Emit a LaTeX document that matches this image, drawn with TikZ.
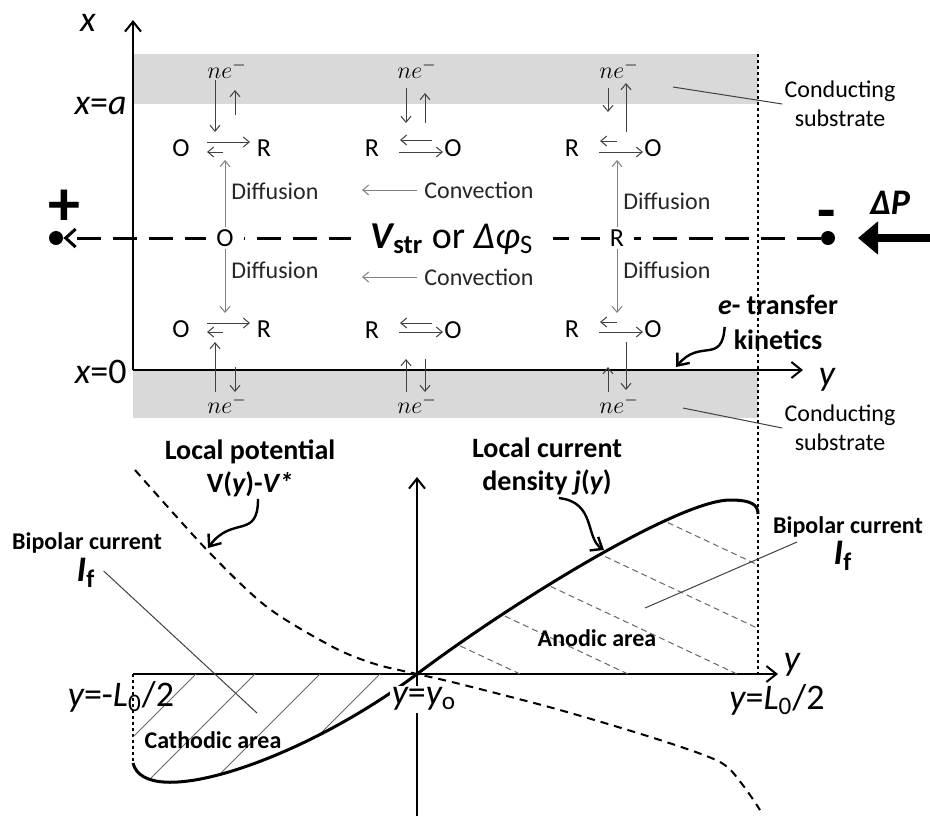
\documentclass[tikz,border=0pt]{standalone}
\usepackage{fontspec}
\setmainfont{Carlito}
\usetikzlibrary{calc,positioning,arrows.meta}
\tikzset{
  axis/.style={line width=1pt, -{Straight Barb[length=5pt,width=8pt]}},
  band/.style={fill=black!15},
  guide/.style={line width=0.6pt, dash pattern=on 1.5pt off 1.5pt},
  rxn/.style={line width=0.5pt, draw=black!75, -{Straight Barb[length=3pt,width=5pt]}},
  dif/.style={line width=0.5pt, draw=black!50, -{Straight Barb[length=3pt,width=5pt]}},
  spc/.style={inner sep=1pt, font=\fontsize{13}{15}\selectfont},
  lbl/.style={inner sep=1pt, font=\fontsize{12}{14}\selectfont, text=black!85},
  elec/.style={inner sep=0pt, anchor=base, font=\fontsize{12}{14}\selectfont},
  blbl/.style={inner sep=1pt, align=center, font=\fontsize{14}{16.5}\selectfont\bfseries},
  sublbl/.style={inner sep=1pt, align=center, font=\fontsize{12}{14.5}\selectfont},
  axlbl/.style={inner sep=1pt, font=\fontsize{18}{20}\selectfont},
  pole/.style={circle, fill=black, inner sep=0pt, minimum size=7pt},
  potline/.style={line width=1.5pt, dash pattern=on 12pt off 6pt, -{Straight Barb[length=5pt,width=9pt]}},
  leader/.style={line width=0.5pt, draw=black!75},
  hatch/.style={line width=0.5pt, draw=black!60},
  ahatch/.style={line width=0.5pt, draw=black!60, dash pattern=on 3pt off 2pt},
  curve/.style={line width=1.5pt},
  pot/.style={line width=1pt, dash pattern=on 4pt off 3pt},
  wavy/.style={line width=1.2pt, -{Straight Barb[length=5pt,width=8pt]}},
}
\begin{document}
\begin{tikzpicture}[x=0.5pt,y=-0.5pt]
  \useasboundingbox (0,0) rectangle (930,816);
  % conducting substrates
  \fill[band] (133,54) rectangle (758,104);
  \fill[band] (133,370) rectangle (758,418);
  \draw[guide] (758,54) -- (758,674);
  % top axes
  \coordinate (org) at (133,370);
  \draw[axis] (org) -- (133,20);
  \draw[axis] (org) -- (803,370);
  \node[axlbl] (xlab) at (88,23) {\itshape x};
  \node[axlbl, anchor=east] (xa) at (129,106) {{\itshape x}=\itshape a};
  \node[axlbl, anchor=east] (x0) at (129,372) {{\itshape x}=0};
  \node[axlbl] (ylab) at (827,380) {\itshape y};

  % stretching potential
  \node[pole] (ldot) at (56,238) {};
  \node[pole] (rdot) at (828,238) {};
  \draw[potline] (rdot) -- (ldot);
  \node[font=\fontsize{32}{32}\selectfont\bfseries, inner sep=0pt] (plus) at (64,208) {+};
  \node[font=\fontsize{30}{30}\selectfont\bfseries, inner sep=0pt] (minus) at (827,220) {-};
  \node[font=\fontsize{18}{20}\selectfont\bfseries\itshape, inner sep=0pt] (dp) at (890,203) {ΔP};
  \coordinate (push) at (930,238);
  \draw[line width=4pt, -{Triangle[length=10pt,width=16pt]}] (push) -- ([xshift=15pt]rdot.center);
  \node[spc, fill=white, inner xsep=5pt] (m1) at (225,238) {O};
  \node[spc, fill=white, inner xsep=5pt] (m2) at (617,238) {R};
  \node[fill=white, inner xsep=10pt, inner ysep=1pt, anchor=base, font=\fontsize{19}{21}\selectfont] (vs) at (452,248)
    {{\bfseries\itshape V}\textsubscript{\bfseries str} or {\itshape Δφ}\textsubscript{S}};

  % column 1: O -> R
  \node[elec] (ne1) at (227,78) {$ne^{-}$};
  \node[spc] (o1) at (181,148) {O};
  \node[spc] (r1) at (264,148) {R};
  \draw[rxn] ([shift={(-12,2)}]ne1.base) -- ++(0,52);
  \draw[rxn] ([shift={(8,37)}]ne1.base) -- ++(0,-25);
  \draw[rxn] ([shift={(26,-6)}]o1.center) -- ([shift={(-14,-6)}]r1.center);
  \draw[rxn] ([shift={(42,4)}]o1.center) -- ([shift={(26,4)}]o1.center);
  \draw[dif] (m1.north) -- (m1.north |- 0,160);
  \node[lbl, anchor=west] (df1) at (229,191) {Diffusion};
  \draw[dif] (m1.south) -- (m1.south |- 0,313);
  \node[lbl, anchor=west] (df2) at (229,270) {Diffusion};
  \node[spc] (o4) at (181,329) {O};
  \node[spc] (r4) at (264,329) {R};
  \draw[rxn] ([shift={(26,-6)}]o4.center) -- ([shift={(-14,-6)}]r4.center);
  \draw[rxn] ([shift={(42,3)}]o4.center) -- ([shift={(26,3)}]o4.center);
  \node[elec] (ne4) at (227,413) {$ne^{-}$};
  \draw[rxn] ([shift={(-12,-21)}]ne4.base) -- ++(0,-50);
  \draw[rxn] ([shift={(8,-46)}]ne4.base) -- ++(0,25);

  % column 2: R <- O, convection
  \node[elec] (ne2) at (417,78) {$ne^{-}$};
  \node[spc] (r2) at (372,148) {R};
  \node[spc] (o2) at (453,148) {O};
  \draw[rxn] ([shift={(-11,10)}]ne2.base) -- ++(0,35);
  \draw[rxn] ([shift={(8,45)}]ne2.base) -- ++(0,-30);
  \draw[rxn] ([shift={(60,-8)}]r2.center) -- ([shift={(28,-8)}]r2.center);
  \draw[rxn] ([shift={(27,4)}]r2.center) -- ([shift={(-10,4)}]o2.center);
  \node[lbl, anchor=west] (cv1) at (422,190) {Convection};
  \draw[dif] ([xshift=-2.5pt]cv1.west) -- ++(-55,0);
  \node[lbl, anchor=west] (cv2) at (422,277) {Convection};
  \draw[dif] ([xshift=-2.5pt]cv2.west) -- ++(-55,0);
  \node[spc] (r5) at (372,330) {R};
  \node[spc] (o5) at (453,330) {O};
  \draw[rxn] ([shift={(60,-7)}]r5.center) -- ([shift={(28,-7)}]r5.center);
  \draw[rxn] ([shift={(27,2)}]r5.center) -- ([shift={(-10,2)}]o5.center);
  \node[elec] (ne5) at (417,413) {$ne^{-}$};
  \draw[rxn] ([shift={(-11,-21)}]ne5.base) -- ++(0,-33);
  \draw[rxn] ([shift={(8,-54)}]ne5.base) -- ++(0,33);

  % column 3: R -> O
  \node[elec] (ne3) at (619,78) {$ne^{-}$};
  \node[spc] (r3) at (572,148) {R};
  \node[spc] (o3) at (653,148) {O};
  \draw[rxn] ([shift={(-11,10)}]ne3.base) -- ++(0,24);
  \draw[rxn] ([shift={(7,54)}]ne3.base) -- ++(0,-49);
  \draw[rxn] ([shift={(45,-7)}]r3.center) -- ([shift={(28,-7)}]r3.center);
  \draw[rxn] ([shift={(27,4)}]r3.center) -- ([shift={(-10,4)}]o3.center);
  \draw[dif] (m2.north) -- (m2.north |- 0,160);
  \node[lbl, anchor=west] (df3) at (621,201) {Diffusion};
  \draw[dif] (m2.south) -- (m2.south |- 0,313);
  \node[lbl, anchor=west] (df4) at (621,270) {Diffusion};
  \node[spc] (r6) at (572,329) {R};
  \node[spc] (o6) at (653,329) {O};
  \draw[rxn] ([shift={(45,-7)}]r6.center) -- ([shift={(28,-7)}]r6.center);
  \draw[rxn] ([shift={(27,3)}]r6.center) -- ([shift={(-10,3)}]o6.center);
  \node[elec] (ne6) at (619,413) {$ne^{-}$};
  \draw[rxn] ([shift={(-11,-21)}]ne6.base) -- ++(0,-25);
  \draw[rxn] ([shift={(7,-71)}]ne6.base) -- ++(0,48);

  % substrate labels
  \node[sublbl] (cs1) at (840,104) {Conducting\\substrate};
  \draw[leader] (cs1.west) -- (673,87);
  \node[sublbl] (cs2) at (840,428) {Conducting\\substrate};
  \draw[leader] (cs2.west) -- (683,408);
  \node[blbl, font=\fontsize{14}{17.5}\selectfont\bfseries] (et) at (778,322) {{\itshape e}- transfer\\kinetics};
  \draw[wavy] ([shift={(9,5)}]et.west) .. controls (722,365) and (700,338) .. (676,367);

  % lower graph: current and potential along y
  \coordinate (go) at (417,674);
  \draw[axis] (133,674) -- (778,674);
  \draw[axis] (417,816) -- (417,477);
  \node[axlbl] (ylab2) at (792,665) {\itshape y};
  \draw[guide] (133,674) -- (133,762);
  \begin{scope}
    \clip (133,674) -- (133,763) .. controls (145,812) and (300,762) .. (go) -- cycle;
    \foreach \a in {196,255,320,380}
      \draw[hatch] (\a,674) -- ++(-150,150);
  \end{scope}
  \begin{scope}
    \clip (go) .. controls (517,599) and (680,500) .. (730,500) .. controls (752,500) and (758,505) .. (758,514) -- (758,674) -- cycle;
    \foreach \a in {520,628,737,855,990}
      \draw[ahatch] (\a,674) -- ++(-400,-188);
  \end{scope}
  \draw[curve] (133,763) .. controls (145,812) and (300,762) .. (go)
    .. controls (517,599) and (680,500) .. (730,500) .. controls (752,500) and (758,505) .. (758,514);
  \draw[pot] plot[smooth] coordinates {(135,470) (207,550) (267,607) (333,647) (375,664) (417,674) (460,684) (560,710) (660,740) (720,762) (742,784) (760,810)};

  \node[axlbl] (ym) at (121,697) {{\itshape y}=-{\itshape L}\textsubscript{0}/2};
  \node[axlbl, fill=white] (yo) at (424,699) {{\itshape y}={\itshape y}\textsubscript{o}};
  \node[axlbl] (yp) at (777,700) {{\itshape y}={\itshape L}\textsubscript{0}/2};

  \node[blbl] (lp) at (250,468) {Local potential\\V({\itshape y})-{\itshape V*}};
  \draw[wavy] ([xshift=4pt]lp.south) .. controls (258,540) and (232,515) .. (208,548);
  \node[blbl] (lc) at (547,467) {Local current\\density {\itshape j}({\itshape y})};
  \draw[wavy] ([xshift=6pt]lc.south) .. controls (596,502) and (585,538) .. (604,550);

  \node[blbl, font=\fontsize{12}{14}\selectfont\bfseries] (bp1) at (87,543) {Bipolar current};
  \node[font=\fontsize{18}{20}\selectfont\bfseries\itshape, inner sep=1pt] (if1) at (86,573) {I\textsubscript{\upshape f}};
  \draw[leader] ([shift={(6,-2)}]if1.east) -- (257,713);
  \node[blbl, font=\fontsize{12}{14}\selectfont\bfseries] (bp2) at (848,527) {Bipolar current};
  \node[font=\fontsize{18}{20}\selectfont\bfseries\itshape, inner sep=1pt] (if2) at (843,556) {I\textsubscript{\upshape f}};
  \draw[leader] ([shift={(-51,15)}]bp2.center) -- (645,608);
  \node[blbl, font=\fontsize{12}{14}\selectfont\bfseries] (an) at (597,638) {Anodic area};
  \node[blbl, font=\fontsize{12}{14}\selectfont\bfseries] (ca) at (213,740) {Cathodic area};
\end{tikzpicture}
\end{document}
